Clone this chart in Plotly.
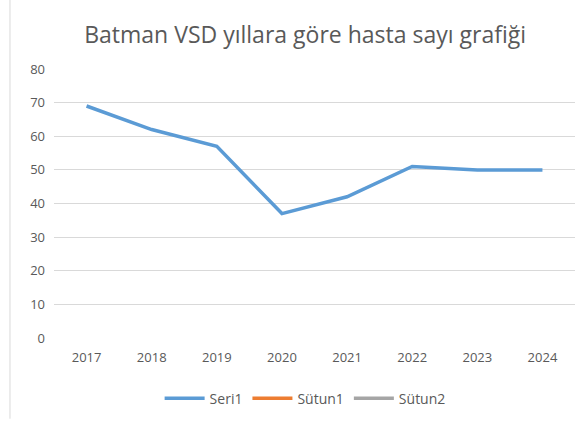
import plotly.graph_objects as go

years = ["2017", "2018", "2019", "2020", "2021", "2022", "2023", "2024"]
seri1 = [69, 62, 57, 37, 42, 51, 50, 50]
sutun1 = [None] * 8
sutun2 = [None] * 8
y_ticks = [0, 10, 20, 30, 40, 50, 60, 70, 80]

fig = go.Figure()
fig.add_trace(go.Scatter(x=years, y=seri1, mode="lines", name="Seri1",
                         line=dict(color="#5B9BD5", width=3.5)))
fig.add_trace(go.Scatter(x=years, y=sutun1, mode="lines", name="Sütun1",
                         line=dict(color="#ED7D31", width=3.5)))
fig.add_trace(go.Scatter(x=years, y=sutun2, mode="lines", name="Sütun2",
                         line=dict(color="#A5A5A5", width=3.5)))

fig.update_layout(
    width=582, height=423,
    margin=dict(l=54, r=7, t=69, b=85, autoexpand=False),
    paper_bgcolor="white", plot_bgcolor="white",
    font=dict(family="Open Sans, sans-serif", color="#595959", size=13),
    title=dict(text="Batman VSD yıllara göre hasta sayı grafiği", x=0.482, xanchor="center",
               y=0.917, yanchor="middle", xref="paper",
               font=dict(size=23, color="#595959")),
    showlegend=True,
    legend=dict(orientation="h", x=0.482, xanchor="center", y=-0.225, yanchor="middle",
                font=dict(size=14, color="#595959"), itemwidth=40, tracegroupgap=0),
    xaxis=dict(type="category", range=[-0.5, 7.5], showgrid=False, showline=False,
               zeroline=False, ticks="", automargin=False, ticklabelstandoff=10,
               tickfont=dict(size=13, color="#595959")),
    yaxis=dict(range=[0, 80], tickvals=y_ticks, showgrid=True, gridcolor="#D9D9D9",
               gridwidth=1, zeroline=False, showline=False, ticks="", automargin=False,
               ticklabelstandoff=8, tickfont=dict(size=13, color="#595959")),
    shapes=[dict(type="line", xref="paper", yref="paper", x0=-0.0845, x1=-0.0845,
                 y0=-0.3, y1=1.3, line=dict(color="#D9D9D9", width=1))],
)

fig.write_html("out.html", config={"displayModeBar": False},
               post_script="document.body.style.margin='0';")
